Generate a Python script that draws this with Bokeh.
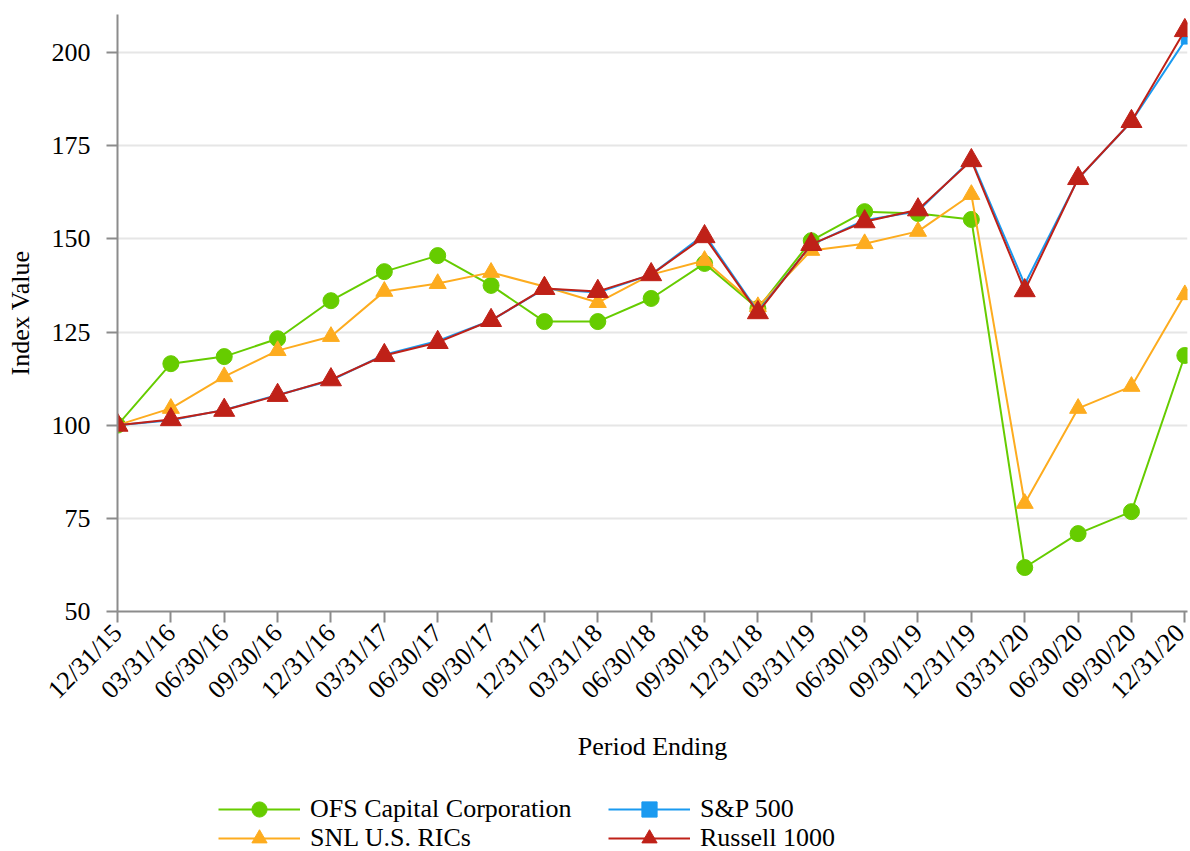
import math
from bokeh.plotting import figure
from bokeh.layouts import column
from bokeh.models import Range1d, FixedTicker, Legend, LegendItem, ColumnDataSource
from bokeh.embed import file_html
from bokeh.resources import INLINE

periods = ["12/31/15", "03/31/16", "06/30/16", "09/30/16", "12/31/16", "03/31/17", "06/30/17",
           "09/30/17", "12/31/17", "03/31/18", "06/30/18", "09/30/18", "12/31/18", "03/31/19",
           "06/30/19", "09/30/19", "12/31/19", "03/31/20", "06/30/20", "09/30/20", "12/31/20"]
ofs = [100, 116.5, 118.4, 123.2, 133.4, 141.2, 145.5, 137.5, 127.8, 127.8, 134.0, 143.4,
       131.3, 149.5, 157.3, 156.8, 155.2, 61.8, 70.9, 76.8, 118.7]
snl = [100, 104.5, 113.0, 120.0, 123.8, 135.9, 138.0, 141.0, 137.2, 132.9, 140.4, 144.2,
       131.8, 146.9, 148.7, 152.0, 161.9, 79.0, 104.5, 110.4, 135.0]
sp500 = [100, 101.3, 104.1, 108.1, 112.0, 118.9, 122.6, 128.1, 136.6, 135.6, 140.4, 151.2,
         130.5, 148.4, 155.0, 157.4, 171.4, 137.8, 166.1, 181.5, 203.2]
russell = [100, 101.5, 104.0, 108.0, 112.2, 118.7, 122.2, 128.1, 136.7, 135.9, 140.4, 150.6,
           130.2, 148.5, 154.6, 157.8, 171.0, 136.1, 166.2, 181.5, 205.9]
y_ticks = [50, 75, 100, 125, 150, 175, 200]

FONT = "Liberation Serif"
FSIZE = "26px"
x = list(range(len(periods)))

p = figure(width=1190, height=770, x_range=Range1d(0, 20.05), y_range=Range1d(50, 210.2),
           output_backend="svg", toolbar_location=None,
           min_border_left=117, min_border_right=3, min_border_top=14, min_border_bottom=159)
p.outline_line_color = None
p.background_fill_color = "white"
p.xgrid.visible = False
p.ygrid.grid_line_color = "#e6e6e6"
p.ygrid.grid_line_width = 2

p.xaxis.ticker = FixedTicker(ticks=x)
p.xaxis.major_label_overrides = {i: d for i, d in enumerate(periods)}
p.xaxis.major_label_orientation = math.pi / 4
p.yaxis.ticker = FixedTicker(ticks=y_ticks)
for ax in (p.xaxis[0], p.yaxis[0]):
    ax.axis_line_color = "#8c8c8c"
    ax.axis_line_width = 2
    ax.major_tick_line_color = "#8c8c8c"
    ax.major_tick_line_width = 2
    ax.major_tick_out = 11
    ax.major_tick_in = 0
    ax.minor_tick_line_color = None
    ax.major_label_text_font = FONT
    ax.major_label_text_font_size = FSIZE
    ax.major_label_text_color = "black"
    ax.axis_label_text_font = FONT
    ax.axis_label_text_font_size = FSIZE
    ax.axis_label_text_font_style = "normal"
    ax.axis_label_text_color = "black"
p.yaxis.axis_label = "Index Value"
p.xaxis.axis_label = "Period Ending"
p.yaxis.major_label_standoff = 16
p.xaxis.major_label_standoff = 6
p.xaxis.axis_label_standoff = 15
p.yaxis.axis_label_standoff = 14

# legend lives in a strip below the chart (its frame is aligned with the chart's frame)
pl = figure(width=1190, height=81, x_range=Range1d(0, 1), y_range=Range1d(0, 1),
            x_axis_type=None, y_axis_type=None, output_backend="svg", toolbar_location=None,
            min_border=0)
pl.outline_line_color = None
pl.xgrid.visible = False
pl.ygrid.visible = False

series = [
    ("OFS Capital Corporation", ofs, "#66cc00", "circle", 16),
    ("SNL U.S. RICs", snl, "#fdac1f", "triangle", 17),
    ("S&P 500", sp500, "#1a9af0", "square", 7),
    ("Russell 1000", russell, "#bf2118", "triangle", 21),
]
items = {}
for name, vals, color, marker, size in series:
    src = ColumnDataSource(dict(x=x, y=vals))
    p.line("x", "y", source=src, line_color=color, line_width=2)
    p.scatter("x", "y", source=src, marker=marker, size=size,
              fill_color=color, line_color=color)
    ln = pl.line("x", "y", source=src, line_color=color, line_width=2, visible=False)
    sc = pl.scatter("x", "y", source=src, marker=marker, size=size,
                    fill_color=color, line_color=color, visible=False)
    items[name] = LegendItem(label=name, renderers=[ln, sc])

legend_rows = [(["OFS Capital Corporation", "S&P 500"], 23),
               (["SNL U.S. RICs", "Russell 1000"], -6)]
for names, ypos in legend_rows:
    lg = Legend(items=[items[n] for n in names], orientation="horizontal", location=(101, ypos),
                label_text_font=FONT, label_text_font_size=FSIZE, label_text_color="black",
                glyph_width=82, glyph_height=38, label_height=24, label_width=288,
                label_standoff=10, spacing=10, padding=0, margin=0,
                border_line_color=None, background_fill_alpha=0)
    pl.add_layout(lg, "center")

layout = column(p, pl, spacing=0)
open("out.html", "w").write(file_html(layout, INLINE))
